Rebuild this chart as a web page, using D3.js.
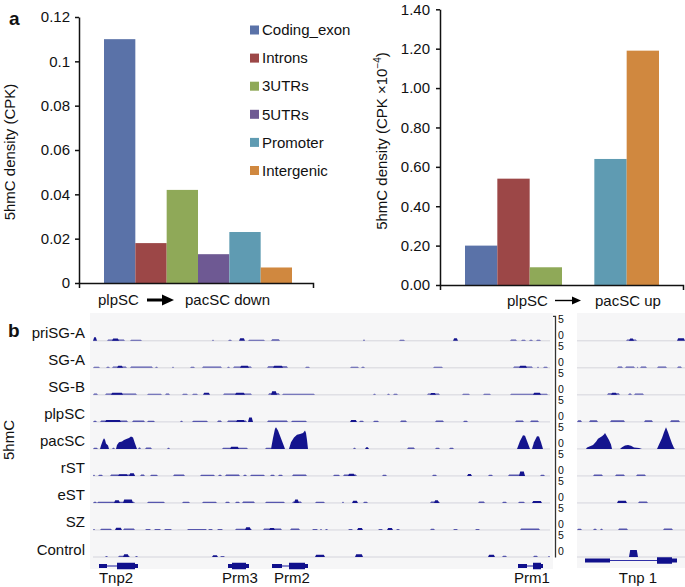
<!DOCTYPE html>
<html><head><meta charset="utf-8">
<script src="https://cdn.jsdelivr.net/npm/d3@7"></script>
<style>
body{margin:0;background:#fff}
svg{display:block}
text{font-family:"Liberation Sans",Arial,Helvetica,sans-serif;fill:#111}
</style>
</head><body>
<svg id="chart" width="685" height="587"></svg>
<script>
// ---------------- DATA ----------------
const categories = ["Coding_exon","Introns","3UTRs","5UTRs","Promoter","Intergenic"];
const barColors = ["#5a72a8","#9c4747","#8fa958","#6e5993","#5f9bb2","#d0883f"];
const downValues = [0.110, 0.018, 0.042, 0.013, 0.023, 0.007];   // plpSC -> pacSC down (CPK)
const upValues   = [0.20, 0.54, 0.09, null, 0.64, 1.19];          // plpSC -> pacSC up (CPK x10^-4)
const downTicks = [0, 0.02, 0.04, 0.06, 0.08, 0.10, 0.12];
const downTickLabels = ["0","0.02","0.04","0.06","0.08","0.1","0.12"];
const upTicks = [0, 0.2, 0.4, 0.6, 0.8, 1.0, 1.2, 1.4];
const upTickLabels = ["0.00","0.20","0.40","0.60","0.80","1.00","1.20","1.40"];

const trackNames = ["priSG-A","SG-A","SG-B","plpSC","pacSC","rST","eST","SZ","Control"];
// signal blocks [start, end, height] (height in track units, full scale 0-5)
const priSGA_L = [[0,4,0.8],[14,32,0.3],[19,26,0.5],[37,49,0.25],[119,121,0.25],[135,139,0.25],[146,152,0.6],[155,172,0.25],[178,187,0.35],[270,272,0.3],[306,312,0.25],[360,365,0.6],[417,424,0.3],[428,433,0.25],[436,440,0.25],[443,448,0.25]];
const priSGA_R = [[49,60,0.3],[52,57,0.5],[100,108,0.6]];
const SGA_L = [[0,7,0.25],[13,17,0.25],[19,34,0.3],[24,30,0.45],[37,60,0.3],[62,65,0.25],[79,81,0.25],[97,102,0.25],[109,129,0.3],[134,137,0.25],[140,159,0.3],[147,156,0.5],[174,195,0.35],[180,190,0.45],[212,217,0.25],[257,266,0.25],[268,272,0.25],[340,350,0.25],[420,440,0.3],[426,434,0.5],[444,446,0.25],[450,455,0.25]];
const SGA_R = [[40,46,0.3],[48,58,0.3],[60,61,0.25],[63,70,0.3],[80,90,0.3],[100,105,0.3]];
const SGB_L = [[0,5,0.3],[12,44,0.3],[18,30,0.45],[54,69,0.25],[72,77,0.3],[89,95,0.25],[99,105,0.25],[110,117,0.45],[130,159,0.3],[142,152,0.5],[175,187,0.35],[178,184,0.8],[189,222,0.25],[280,283,0.25],[294,297,0.25],[300,305,0.25],[334,347,0.3],[337,343,0.4],[369,377,0.25],[390,398,0.25],[417,455,0.25],[440,448,0.45]];
const SGB_R = [[30,43,0.35],[34,40,0.5],[51,55,0.3],[57,67,0.3]];
const plpSC_L = [[0,4,0.25],[7,35,0.3],[12,28,0.45],[39,52,0.3],[54,62,0.25],[87,90,0.25],[99,115,0.25],[124,129,0.3],[134,154,0.3],[143,152,0.45],[155,160,1.0],[174,195,0.3],[198,214,0.25],[257,264,0.4],[266,271,0.25],[280,286,0.25],[307,314,0.3],[342,351,0.3],[370,375,0.25],[422,431,0.3],[437,446,0.3]];
const plpSC_R = [[0,5,0.35],[12,21,0.35],[33,48,0.35],[67,76,0.35],[93,103,0.35]];
const pacSC_L = [[0,5,0.25],[19,22,0.25],[45,48,0.3],[52,59,0.3],[74,77,0.25],[129,155,0.25],[137,146,0.5],[172,179,0.25],[260,263,0.25],[272,276,0.4],[314,322,0.3],[342,347,0.25],[356,361,0.25]];
const pacSC_R = [];
const rST_L = [[0,2,0.25],[5,10,0.25],[17,42,0.3],[25,35,0.4],[36,42,0.6],[47,52,0.3],[57,65,0.25],[80,92,0.3],[107,122,0.25],[125,129,0.25],[132,147,0.3],[150,154,0.25],[157,172,0.25],[177,182,0.25],[185,190,0.25],[199,214,0.3],[240,247,0.25],[250,264,0.3],[255,262,0.5],[289,294,0.25],[339,344,0.25],[374,379,0.45],[395,400,0.25],[415,432,0.3],[426,432,1.0],[447,452,0.25]];
const rST_R = [[16,26,0.35],[38,48,0.35],[59,69,0.35]];
const eST_L = [[0,4,0.25],[4,42,0.3],[21,27,0.6],[30,40,0.8],[54,72,0.25],[89,97,0.3],[109,124,0.25],[132,137,0.3],[142,147,0.3],[149,162,0.35],[172,192,0.3],[199,209,0.35],[201,206,0.8],[222,232,0.25],[249,251,0.25],[259,265,0.5],[270,275,0.25],[337,347,0.35],[341,346,0.6],[385,392,0.35],[409,414,0.25],[425,432,0.3],[439,449,0.45]];
const eST_R = [[40,50,0.5],[61,71,0.35]];
const SZ_L = [[0,2,0.25],[7,19,0.3],[22,29,0.5],[30,42,0.35],[52,58,0.25],[61,68,0.25],[71,79,0.25],[94,114,0.25],[115,120,0.25],[124,130,0.25],[142,159,0.3],[152,158,0.6],[170,189,0.35],[176,182,0.45],[197,207,0.35],[219,225,0.25],[227,229,0.25],[232,235,0.25],[255,260,0.25],[264,270,0.45],[285,290,0.25],[294,300,0.45],[303,307,0.25],[337,342,0.3],[360,365,0.25],[382,387,0.25],[427,447,0.35]];
const SZ_R = [[0,5,0.3],[16,20,0.3],[23,26,0.3],[41,51,0.35],[86,96,0.35]];
const Control_L = [[12,15,0.25],[25,37,0.3],[30,36,0.6],[42,45,0.25],[119,125,0.4],[127,132,0.25],[222,232,0.5],[262,270,0.6],[395,402,0.5],[409,414,0.3],[440,445,0.3],[455,457,0.25]];
const Control_R = [[52,61,1.6]];

// peak profiles [position, height]
const pacSC_peaks_L = [
  [[7,0],[8,0.8],[10,2.0],[11,2.4],[12,2.1],[13,1.2],[15,0.8],[16,0]],
  [[23,0],[24,0.9],[26,1.5],[29,1.7],[31,2.0],[34,2.3],[36,2.5],[38,2.8],[40,2.6],[42,1.2],[44,0]],
  [[178,0],[180,2.5],[182,4.6],[183,4.9],[185,4.2],[187,3.0],[189,1.8],[191,0.6],[192,0]],
  [[196,0],[198,1.5],[201,2.6],[204,3.2],[207,3.4],[210,3.6],[212,4.2],[213,3.6],[214,2.0],[215,0]],
  [[424,0],[427,1.8],[430,3.1],[432,3.0],[434,1.8],[436,0.6],[437,0]],
  [[439,0],[441,1.5],[444,2.9],[446,2.8],[448,1.5],[450,0]]
];
const pacSC_peaks_R = [
  [[9,0],[10,0.3],[13,0.6],[16,0.9],[19,1.6],[21,2.3],[25,2.9],[27,3.3],[28,3.6],[30,2.8],[32,2.0],[34,1.0],[35,0]],
  [[43,0],[45,0.4],[48,0.8],[51,0.9],[54,0.7],[57,0.3],[62,0.2],[65,0]],
  [[80,0],[82,1.0],[85,2.5],[87,3.8],[89,4.9],[91,3.8],[93,2.5],[95,1.2],[97,0.2],[98,0]]
];

// gene models [start, end, part]
const Tnp2 = [[6,14,"utr"],[14,24,"line"],[24,42,"exon"],[42,45,"utr"]];
const Prm3 = [[135,139,"utr"],[139,153,"exon"],[153,156,"utr"]];
const Prm2 = [[179,189,"utr"],[189,196,"line"],[196,212,"exon"],[212,215,"utr"]];
const Prm1 = [[425,434,"utr"],[434,440,"line"],[440,448,"exon"],[448,450,"utr"]];
const Tnp1 = [[8,33,"utr"],[33,80,"line"],[80,95,"exon"],[95,100,"utr"]];
const geneNamesL = ["Tnp2","Prm3","Prm2","Prm1"];
const geneLabelPosL = [23, 147, 199, 439];
const geneNamesR = ["Tnp 1"];
const geneLabelPosR = [61];
const scaleLabels = ["5","0"];

// ---------------- DRAW ----------------
const svg = d3.select("#chart");

// panel letters
svg.append("text").attr("x",9).attr("y",25).attr("font-size",19).attr("font-weight","bold").text("a");
svg.append("text").attr("x",8).attr("y",337).attr("font-size",19).attr("font-weight","bold").text("b");

function barChart(o) {
  const g = svg.append("g");
  const x = d3.scaleBand().domain(categories).range(o.band).padding(0);
  const y = d3.scaleLinear().domain([0, o.max]).range(o.yr);
  const rows = categories.map((c,i)=>({c, v:o.values[i], col:barColors[i]})).filter(d=>d.v!=null);
  g.selectAll("rect.bar").data(rows).join("rect").attr("class","bar")
    .attr("x", d=>x(d.c)).attr("width", x.bandwidth())
    .attr("y", d=>y(d.v)).attr("height", d=>y(0)-y(d.v)).attr("fill", d=>d.col);
  const ya = g.append("g").attr("transform",`translate(${o.frame[0]},0)`)
    .call(d3.axisLeft(y).tickValues(o.ticks).tickFormat((d,i)=>o.labels[i]).tickSize(4).tickSizeOuter(0).tickPadding(o.pad));
  const xf = d3.scaleLinear().range(o.frame);
  const xa = g.append("g").attr("transform",`translate(0,${y(0)})`)
    .call(d3.axisBottom(xf).tickValues([]).tickSizeOuter(5));
  [ya, xa].forEach(a=>{
    a.selectAll("path,line").attr("stroke","#111").attr("stroke-width",1.5);
    a.selectAll("text").attr("font-size",15).attr("fill","#111").attr("font-family",'"Liberation Sans",Arial,sans-serif');
  });
  return {x,y};
}

barChart({band:[104,292], frame:[79,313], yr:[283,17], max:0.12, values:downValues, ticks:downTicks, labels:downTickLabels, pad:5});
barChart({band:[465,659], frame:[440,683], yr:[285,9.3], max:1.4, values:upValues, ticks:upTicks, labels:upTickLabels, pad:6});

// legend
const leg = svg.append("g");
categories.forEach((c,i)=>{
  const yy = 30 + 28.1*i;
  leg.append("rect").attr("x",250).attr("y",yy-4.5).attr("width",9).attr("height",9).attr("fill",barColors[i]);
  leg.append("text").attr("x",262).attr("y",yy).attr("dy","0.35em").attr("font-size",15).text(c);
});

// y titles
svg.append("text").attr("transform","translate(15,152) rotate(-90)").attr("text-anchor","middle").attr("font-size",15).text("5hmC density (CPK)");
const t2 = svg.append("text").attr("transform","translate(387,141) rotate(-90)").attr("text-anchor","middle").attr("font-size",15);
t2.append("tspan").text("5hmC density (CPK \u00d710");
t2.append("tspan").attr("dy",-6).attr("font-size",10).text("\u22124");
t2.append("tspan").attr("dy",6).text(")");

// x labels with arrows
svg.append("text").attr("x",98).attr("y",305).attr("font-size",15).text("plpSC");
svg.append("path").attr("d","M147,300H164").attr("stroke","#000").attr("stroke-width",3);
svg.append("path").attr("d","M162,294.5L174,300L162,305.5Z").attr("fill","#000");
svg.append("text").attr("x",185).attr("y",305).attr("font-size",15).text("pacSC down");
svg.append("text").attr("x",507).attr("y",306).attr("font-size",15).text("plpSC");
svg.append("path").attr("d","M555,300.5H574").attr("stroke","#000").attr("stroke-width",1.4);
svg.append("path").attr("d","M572,296.5L581,300.5L572,304.5Z").attr("fill","#000");
svg.append("text").attr("x",595).attr("y",306).attr("font-size",15).text("pacSC up");

// ---------------- TRACKS ----------------
const xL = d3.scaleLinear().domain([0,457]).range([93,550]);
const xR = d3.scaleLinear().domain([0,108]).range([577,685]);
const yT = d3.scalePoint().domain(trackNames).range([340.3,556.5]);
const hS = d3.scaleLinear().domain([0,5]).range([0,22]);
const sigColor = "#14148e";
const dashColor = "#5656ad";

svg.append("rect").attr("x",90).attr("y",313).attr("width",463).attr("height",256).attr("fill","#f6f6f7");
svg.append("rect").attr("x",577).attr("y",313).attr("width",108).attr("height",255).attr("fill","#f6f6f7");

const leftSets  = [priSGA_L, SGA_L, SGB_L, plpSC_L, pacSC_L, rST_L, eST_L, SZ_L, Control_L];
const rightSets = [priSGA_R, SGA_R, SGB_R, plpSC_R, pacSC_R, rST_R, eST_R, SZ_R, Control_R];

const tg = svg.append("g");
function blockPath(xs, b, base) {
  const x0 = xs(b[0]), x1 = Math.max(xs(b[1]), xs(b[0])+1.2);
  const r = Math.min((x1-x0)/3, 1.2);
  const top = base - Math.max(hS(b[2]), 1.0);
  return `M${x0},${base}L${x0+r},${top}L${x1-r},${top}L${x1},${base}Z`;
}
trackNames.forEach((name,i)=>{
  const base = yT(name);
  tg.append("line").attr("x1",xL.range()[0]).attr("x2",xL.range()[1]).attr("y1",base+0.5).attr("y2",base+0.5).attr("stroke","#cdcdd6").attr("stroke-width",0.8);
  tg.append("line").attr("x1",xR.range()[0]).attr("x2",xR.range()[1]).attr("y1",base+0.5).attr("y2",base+0.5).attr("stroke","#cdcdd6").attr("stroke-width",0.8);
  const sorted = s => s.slice().sort((a,b)=>a[2]-b[2]);
  tg.selectAll(null).data(sorted(leftSets[i])).join("path").attr("d",b=>blockPath(xL,b,base+0.5)).attr("fill",b=>b[2]<=0.35?dashColor:sigColor);
  tg.selectAll(null).data(sorted(rightSets[i])).join("path").attr("d",b=>blockPath(xR,b,base+0.5)).attr("fill",b=>b[2]<=0.35?dashColor:sigColor);
  svg.append("text").attr("x",85).attr("y",base-2).attr("text-anchor","end").attr("font-size",15).text(name);
  // scale labels
  svg.append("text").attr("x",558).attr("y",base-21.5).attr("dy","0.36em").attr("font-size",10.5).text(scaleLabels[0]);
  svg.append("text").attr("x",558).attr("y",base-5).attr("dy","0.36em").attr("font-size",10.5).text(scaleLabels[1]);
});
const areaL = d3.area().x(d=>xL(d[0])).y0(yT("pacSC")+0.5).y1(d=>yT("pacSC")+0.5-hS(d[1]));
const areaR = d3.area().x(d=>xR(d[0])).y0(yT("pacSC")+0.5).y1(d=>yT("pacSC")+0.5-hS(d[1]));
tg.selectAll(null).data(pacSC_peaks_L).join("path").attr("d",areaL).attr("fill",sigColor);
tg.selectAll(null).data(pacSC_peaks_R).join("path").attr("d",areaR).attr("fill",sigColor);

// data range bar
svg.append("path").attr("d",`M553,${yT("priSG-A")-24}H555.5V${yT("Control")+1}`).attr("fill","none").attr("stroke","#333").attr("stroke-width",1.3);

// genes
function drawGene(xs, parts, cy) {
  const g = svg.append("g");
  parts.forEach(p=>{
    if (p[2]==="line") {
      g.append("line").attr("x1",xs(p[0])).attr("x2",xs(p[1])).attr("y1",cy).attr("y2",cy).attr("stroke","#3030a8").attr("stroke-width",1.1);
    } else {
      const h = p[2]==="exon" ? 6.5 : 4;
      g.append("rect").attr("x",xs(p[0])).attr("width",xs(p[1])-xs(p[0])).attr("y",cy-h/2).attr("height",h).attr("fill","#10108c");
    }
  });
}
const gyL = 566, gyR = 560.5;
[Tnp2, Prm3, Prm2, Prm1].forEach(gn=>drawGene(xL, gn, gyL));
drawGene(xR, Tnp1, gyR);
geneNamesL.forEach((n,i)=>svg.append("text").attr("x",xL(geneLabelPosL[i])).attr("y",583).attr("text-anchor","middle").attr("font-size",15).text(n));
geneNamesR.forEach((n,i)=>svg.append("text").attr("x",xR(geneLabelPosR[i])).attr("y",583).attr("text-anchor","middle").attr("font-size",15).text(n));

// 5hmC side label
svg.append("text").attr("transform","translate(14,440) rotate(-90)").attr("text-anchor","middle").attr("font-size",15).text("5hmC");
</script>
</body></html>
